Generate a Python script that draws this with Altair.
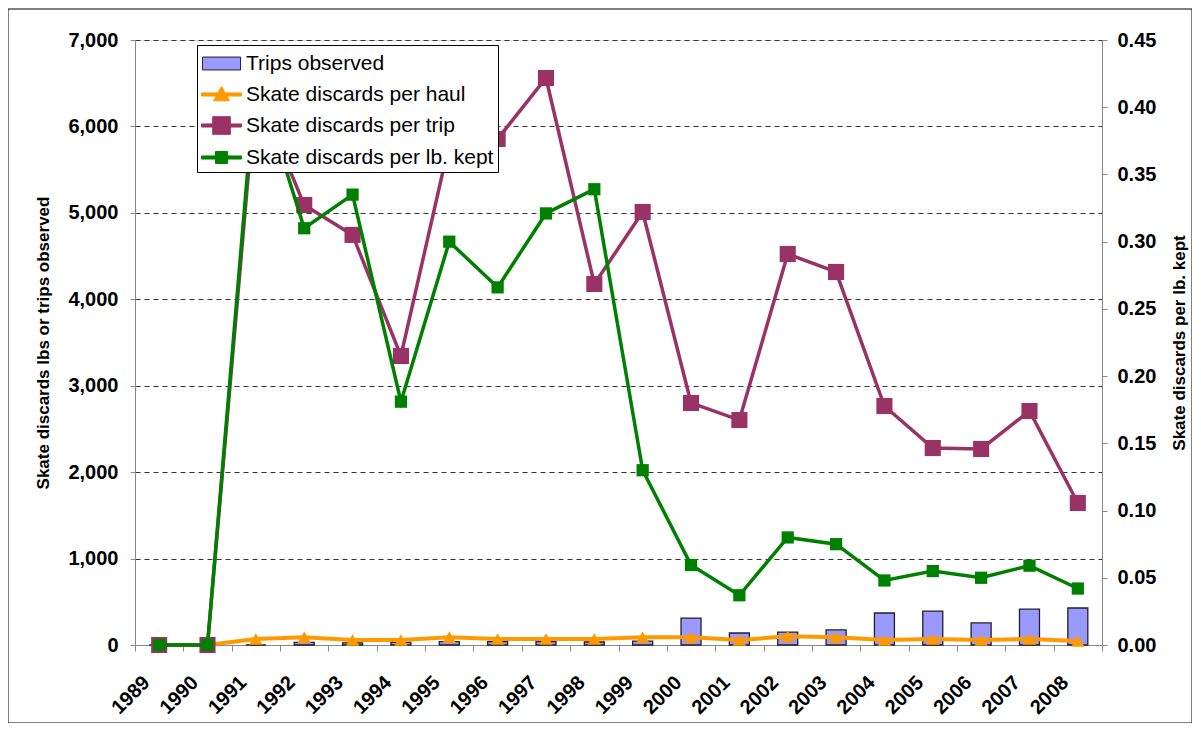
import altair as alt
import pandas as pd

# ---------------- data ----------------
years = [str(y) for y in range(1989, 2009)]
trips_observed = [0, 0, 0, 30, 25, 30, 40, 40, 40, 35, 45, 312, 139, 150, 174, 370, 393, 255, 416, 428]
per_haul = [0, 0, 70, 90, 58, 58, 90, 70, 70, 70, 90, 90, 58, 100, 90, 58, 70, 58, 70, 46]
per_trip = [0, 0, 6450, 5090, 4745, 3344, 5800, 5855, 6560, 4177, 5010, 2800, 2603, 4524, 4316,
            2765, 2279, 2268, 2707, 1643]
per_lb_kept = [0, 0, 0.425, 0.310, 0.335, 0.181, 0.300, 0.266, 0.321, 0.339, 0.130, 0.0595, 0.037,
               0.080, 0.075, 0.048, 0.055, 0.050, 0.059, 0.042]

series_names = ["Trips observed", "Skate discards per haul",
                "Skate discards per trip", "Skate discards per lb. kept"]
fill_colors = ["#9999FF", "#FF9900", "#993366", "#008000"]
stroke_colors = ["#222222", "#FF9900", "#993366", "#008000"]

left_ticks = [0, 1000, 2000, 3000, 4000, 5000, 6000, 7000]
right_ticks = [0.0, 0.05, 0.10, 0.15, 0.20, 0.25, 0.30, 0.35, 0.40, 0.45]

LEFT_TITLE = "Skate discards lbs or trips observed"
RIGHT_TITLE = "Skate discards per lb. kept"

df = pd.DataFrame({"year": years, "trips": trips_observed, "haul": per_haul,
                   "trip": per_trip, "lb": per_lb_kept})

FONT = "Liberation Sans"
W, H = 967, 605

# legend symbol paths (line + marker), unit = sqrt(size)/2
LINE = "M-1,-0.11H1.86V0.11H-1Z"
legend_shapes = [
    "M-0.93,-0.46H1.79V0.46H-0.93Z",
    LINE + "M0.43,-0.58L1.0,0.45L-0.14,0.45Z",
    LINE + "M-0.2,-0.63H1.06V0.63H-0.2Z",
    LINE + "M0.0,-0.43H0.86V0.43H0.0Z",
]

x_enc = alt.X(
    "year:O",
    scale=alt.Scale(type="band", paddingInner=0, paddingOuter=0),
    axis=alt.Axis(title=None, labelAngle=-45, labelFontSize=20, labelFontWeight="bold",
                  labelPadding=21, labelOffset=-20, tickBand="extent", tickSize=6, grid=False,
                  labelAlign="right", labelBaseline="top"),
)

left_axis = alt.Axis(values=left_ticks, format=",.0f", labelFontSize=20, labelFontWeight="bold",
                     labelPadding=12, tickSize=5, grid=True, gridDash=[5, 4],
                     gridColor="#333333", gridWidth=1, titleFontSize=17, titleFontWeight="bold",
                     titlePadding=15)
left_scale = alt.Scale(domain=[0, 7000], nice=False, zero=True)

right_axis = alt.Axis(values=right_ticks, format=".2f", orient="right", labelFontSize=20,
                      labelFontWeight="bold", labelPadding=10, tickSize=5, grid=False,
                      titleFontSize=17, titleFontWeight="bold", titleAngle=270,
                      titlePadding=33)
right_scale = alt.Scale(domain=[0, 0.45], nice=False, zero=True)


def yl(field):
    return alt.Y(f"{field}:Q", scale=left_scale, axis=left_axis, title=LEFT_TITLE)


def yr(field):
    return alt.Y(f"{field}:Q", scale=right_scale, axis=right_axis, title=RIGHT_TITLE)


base = alt.Chart(df)

bars = base.mark_bar(size=20, fill="#9999FF", stroke="#222222", strokeWidth=1.3).encode(
    x=x_enc, y=yl("trips"))

haul_line = base.mark_line(color="#FF9900", strokeWidth=4).encode(x=x_enc, y=yl("haul"))
haul_pts = base.mark_point(shape="triangle-up", size=180, filled=True, color="#FF9900",
                           opacity=1).encode(x=x_enc, y=yl("haul"))

trip_line = base.mark_line(color="#993366", strokeWidth=3.5).encode(x=x_enc, y=yl("trip"))
trip_pts = base.mark_point(shape="square", size=260, filled=True, color="#993366",
                           opacity=1).encode(x=x_enc, y=yl("trip"))

lb_line = base.mark_line(color="#008000", strokeWidth=3.5).encode(x=x_enc, y=yr("lb"))
lb_pts = base.mark_point(shape="square", size=150, filled=True, color="#008000",
                         opacity=1).encode(x=x_enc, y=yr("lb"))

leg = alt.Legend(title=None, orient="none", legendX=62, legendY=5, fillColor="white",
                 strokeColor="black", padding=4, symbolSize=784, symbolStrokeWidth=1,
                 labelFont=FONT, labelFontSize=21, labelColor="black", labelOffset=16,
                 rowPadding=6, labelLimit=0)

legend_layer = base.transform_filter("false").mark_point(
    filled=True, opacity=1, strokeWidth=1).encode(
    x=x_enc, y=yl("trips"),
    fill=alt.Fill("series:N", scale=alt.Scale(domain=series_names, range=fill_colors), legend=leg),
    stroke=alt.Stroke("series:N", scale=alt.Scale(domain=series_names, range=stroke_colors), legend=leg),
    shape=alt.Shape("series:N", scale=alt.Scale(domain=series_names, range=legend_shapes), legend=leg),
)

frame = alt.Chart(alt.Data(values=[{"f": 1}])).mark_rect(
    fillOpacity=0, stroke="black", strokeWidth=1).encode(
    x=alt.value(-127), x2=alt.value(1057), y=alt.value(-31), y2=alt.value(683))

left = alt.layer(frame, bars, haul_line, haul_pts, trip_line, trip_pts, legend_layer)
right = alt.layer(lb_line, lb_pts)

chart = alt.layer(left, right).resolve_scale(y="independent").properties(
    width=W, height=H,
    autosize=alt.AutoSizeParams(type="none"),
    padding={"left": 127, "top": 32, "right": 90, "bottom": 78},
).configure_view(strokeWidth=0).configure_axis(
    labelFont=FONT, titleFont=FONT, labelColor="black", titleColor="black",
    domainColor="black", tickColor="black", domainWidth=1, tickWidth=1,
).configure(background="white")

chart.save("out.html", embed_options={"renderer": "svg", "actions": False})
